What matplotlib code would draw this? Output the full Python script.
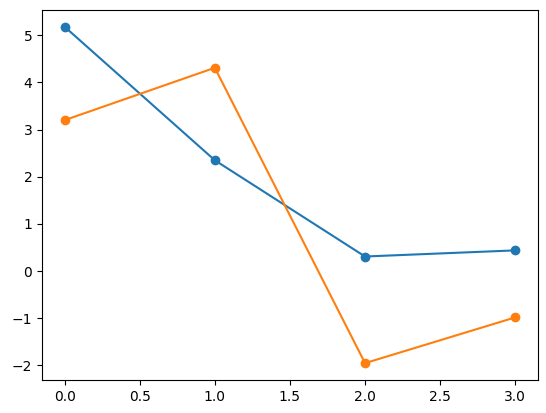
import matplotlib
matplotlib.use("Agg")
import matplotlib.pyplot as plt

x = [0, 1, 2, 3]
series_a = [5.18, 2.35, 0.31, 0.44]
series_b = [3.20, 4.31, -1.95, -0.98]

fig = plt.figure(figsize=(5.46, 4.13), dpi=100)
ax = fig.add_axes([0.077, 0.08, 0.908, 0.896])

ax.plot(x, series_a, marker='o')
ax.plot(x, series_b, marker='o')

fig.savefig('out.png', dpi=100)
